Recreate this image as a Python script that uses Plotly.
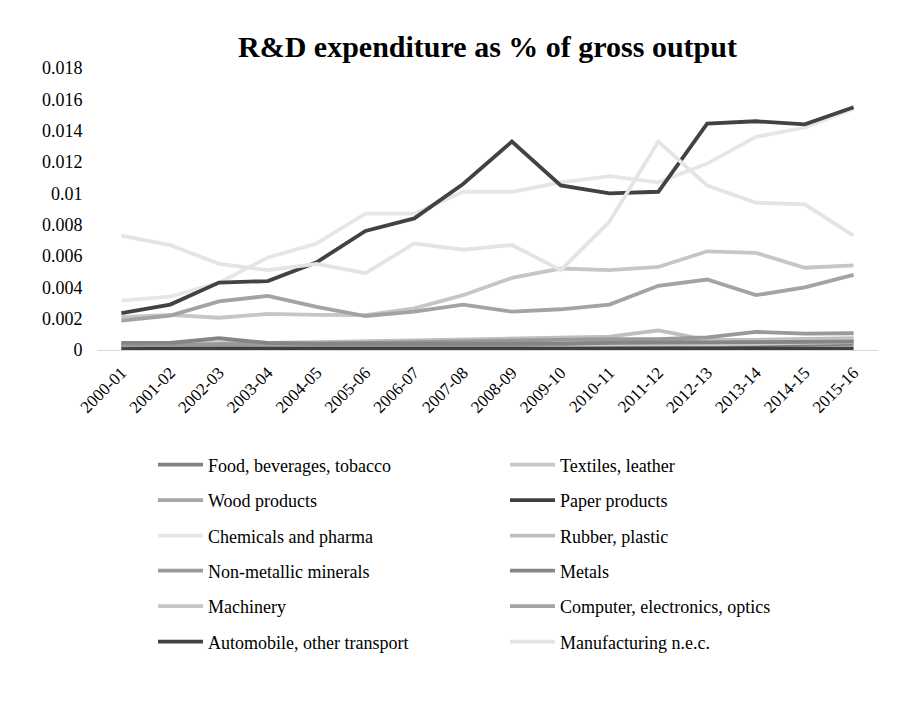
import plotly.graph_objects as go

years = ["2000-01", "2001-02", "2002-03", "2003-04", "2004-05", "2005-06",
         "2006-07", "2007-08", "2008-09", "2009-10", "2010-11", "2011-12",
         "2012-13", "2013-14", "2014-15", "2015-16"]

food = [0.00035, 0.00033, 0.00030, 0.00030, 0.00030, 0.00028, 0.00030, 0.00028,
        0.00027, 0.00030, 0.00032, 0.00030, 0.00035, 0.00030, 0.00035, 0.00040]
textiles = [0.00020, 0.00018, 0.00022, 0.00020, 0.00020, 0.00022, 0.00025, 0.00025,
            0.00030, 0.00030, 0.00030, 0.00035, 0.00040, 0.00040, 0.00045, 0.00050]
wood = [0.00010, 0.00010, 0.00020, 0.00015, 0.00015, 0.00020, 0.00020, 0.00025,
        0.00030, 0.00040, 0.00050, 0.00050, 0.00060, 0.00050, 0.00055, 0.00060]
paper = [0.00008, 0.00008, 0.00008, 0.00008, 0.00008, 0.00008, 0.00008, 0.00008,
         0.00008, 0.00009, 0.00009, 0.00009, 0.00010, 0.00010, 0.00010, 0.00010]
chemicals = [0.00315, 0.0034, 0.0043, 0.0059, 0.0068, 0.0087, 0.0087, 0.0101,
             0.0101, 0.0107, 0.0111, 0.0107, 0.0119, 0.0136, 0.0142, 0.0154]
rubber = [0.00040, 0.00040, 0.00045, 0.00045, 0.00050, 0.00055, 0.00060, 0.00070,
          0.00070, 0.00080, 0.00085, 0.00125, 0.00065, 0.00065, 0.00070, 0.00075]
nonmetallic = [0.00030, 0.00035, 0.00040, 0.00040, 0.00040, 0.00045, 0.00050, 0.00060,
               0.00065, 0.00065, 0.00070, 0.00070, 0.00080, 0.00115, 0.00105, 0.00107]
metals = [0.00045, 0.00045, 0.00075, 0.00045, 0.00040, 0.00040, 0.00040, 0.00035,
          0.00035, 0.00040, 0.00045, 0.00045, 0.00050, 0.00050, 0.00052, 0.00053]
machinery = [0.0021, 0.00224, 0.00206, 0.0023, 0.00224, 0.00222, 0.00266, 0.0035,
             0.0046, 0.0052, 0.0051, 0.0053, 0.0063, 0.0062, 0.00525, 0.0054]
computer = [0.00187, 0.0022, 0.0031, 0.00345, 0.00275, 0.00217, 0.00245, 0.0029,
            0.00245, 0.0026, 0.0029, 0.0041, 0.0045, 0.0035, 0.0040, 0.0048]
automobile = [0.00236, 0.0029, 0.0043, 0.0044, 0.0056, 0.0076, 0.0084, 0.0106,
              0.0133, 0.0105, 0.0100, 0.0101, 0.01445, 0.0146, 0.0144, 0.0155]
manufacturing_nec = [0.0073, 0.0067, 0.0055, 0.0051, 0.0055, 0.0049, 0.0068, 0.0064,
                     0.0067, 0.0051, 0.0082, 0.0133, 0.0105, 0.0094, 0.0093, 0.0073]

series_names = ["Food, beverages, tobacco", "Textiles, leather", "Wood products",
                "Paper products", "Chemicals and pharma", "Rubber, plastic",
                "Non-metallic minerals", "Metals", "Machinery",
                "Computer, electronics, optics", "Automobile, other transport",
                "Manufacturing n.e.c."]
series_values = [food, textiles, wood, paper, chemicals, rubber, nonmetallic,
                 metals, machinery, computer, automobile, manufacturing_nec]
series_colors = ["#808080", "#c8c8c8", "#a6a6a6", "#404040", "#e6e6e6", "#bfbfbf",
                 "#999999", "#858585", "#c6c6c6", "#a3a3a3", "#424242", "#e4e4e4"]

y_ticks = [0, 0.002, 0.004, 0.006, 0.008, 0.01, 0.012, 0.014, 0.016, 0.018]
y_tick_text = ["0", "0.002", "0.004", "0.006", "0.008", "0.01", "0.012",
               "0.014", "0.016", "0.018"]

SERIF = "Liberation Serif, Times New Roman, serif"

fig = go.Figure()
legend_ids = ["legend", "legend2", "legend3", "legend4", "legend5", "legend6"]
for i, (name, vals, col) in enumerate(zip(series_names, series_values, series_colors)):
    fig.add_trace(go.Scatter(
        x=years, y=vals, name=name, mode="lines",
        line=dict(color=col, width=3.8),
        legend=legend_ids[i // 2],
    ))

# two-column legend: one legend per row, evenly spaced below the axis labels
row_px = [465, 500.5, 536, 571, 606.5, 642]
plot_top, plot_bottom, plot_left, plot_right = 68, 350, 97, 878
legend_layouts = {}
for lid, ypx in zip(legend_ids, row_px):
    legend_layouts[lid] = dict(
        orientation="h",
        x=(153 - plot_left) / (plot_right - plot_left),
        xanchor="left",
        y=(plot_bottom - ypx) / (plot_bottom - plot_top),
        yanchor="middle",
        entrywidth=292, entrywidthmode="pixels",
        itemwidth=45,
        font=dict(family=SERIF, size=18, color="#000000"),
        bgcolor="rgba(0,0,0,0)",
        traceorder="normal",
    )

fig.update_layout(
    width=910, height=715,
    margin=dict(l=plot_left, r=910 - plot_right, t=plot_top, b=715 - plot_bottom),
    paper_bgcolor="white", plot_bgcolor="white",
    title=dict(text="<b>R&D expenditure as % of gross output</b>",
               font=dict(family=SERIF, size=30, color="#000000"),
               x=0.5, xref="paper", xanchor="center",
               y=1 - 46 / 715, yref="container", yanchor="middle"),
    xaxis=dict(type="category", range=[-0.5, len(years) - 0.5],
               showgrid=False, zeroline=False,
               showline=True, linecolor="#d9d9d9", linewidth=1,
               ticks="outside", ticklen=5, tickcolor="rgba(0,0,0,0)",
               tickangle=-45,
               tickfont=dict(family=SERIF, size=17, color="#000000")),
    yaxis=dict(range=[0, 0.018], showgrid=False, zeroline=False, showline=False,
               tickvals=y_ticks, ticktext=y_tick_text,
               ticks="outside", ticklen=10, tickcolor="rgba(0,0,0,0)",
               tickfont=dict(family=SERIF, size=18, color="#000000")),
    **legend_layouts,
)

fig.write_html("out.html")
